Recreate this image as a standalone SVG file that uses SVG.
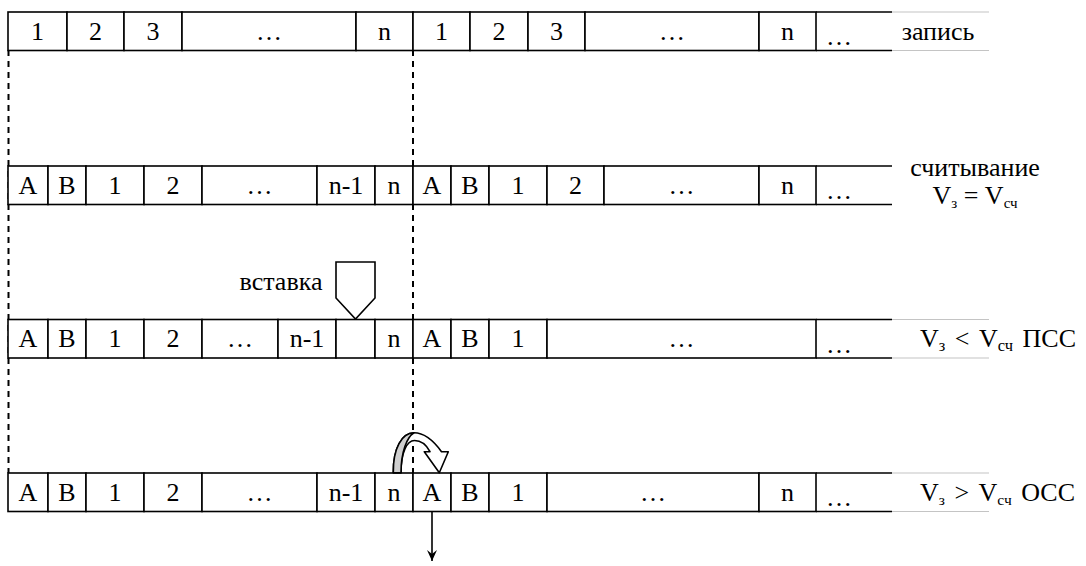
<svg xmlns="http://www.w3.org/2000/svg" width="1086" height="566" viewBox="0 0 1086 566">
<style>
.c{fill:#fff;stroke:#000;stroke-width:1.6}
.o{fill:none;stroke:#000;stroke-width:1.6}
.g{fill:none;stroke:#c4c4c4;stroke-width:1.2}
text{font-family:"Liberation Serif","Times New Roman",serif;font-size:26px;fill:#000}
.t{text-anchor:middle}
.l{font-size:26px}
.s{font-size:15px}
.d{fill:none;stroke:#000;stroke-width:2;stroke-dasharray:6 5}
</style>
<defs>
<marker id="ah" markerWidth="12" markerHeight="10" refX="11" refY="5" orient="auto" markerUnits="userSpaceOnUse" viewBox="0 0 12 10">
<path d="M0,0 L11,5 L0,10 L4,5 Z" fill="#000"/>
</marker>
</defs>

<g id="connectors">
<line class="d" x1="8.5" y1="50" x2="8.5" y2="473"/>
<line class="d" x1="413" y1="50" x2="413" y2="473"/>
<line x1="432" y1="512" x2="432" y2="561" stroke="#000" stroke-width="1.6" marker-end="url(#ah)"/>
</g>

<g id="row1">
<rect class="c" x="8" y="12" width="59" height="38.5"/><text class="t" x="37.5" y="39.5">1</text>
<rect class="c" x="67" y="12" width="57" height="38.5"/><text class="t" x="95.5" y="39.5">2</text>
<rect class="c" x="124" y="12" width="58" height="38.5"/><text class="t" x="153" y="39.5">3</text>
<rect class="c" x="182" y="12" width="174" height="38.5"/><text class="t" x="269" y="39.5">…</text>
<rect class="c" x="356" y="12" width="57" height="38.5"/><text class="t" x="384.5" y="39.5">n</text>
<rect class="c" x="413" y="12" width="57" height="38.5"/><text class="t" x="441.5" y="39.5">1</text>
<rect class="c" x="470" y="12" width="58" height="38.5"/><text class="t" x="499" y="39.5">2</text>
<rect class="c" x="528" y="12" width="57" height="38.5"/><text class="t" x="556.5" y="39.5">3</text>
<rect class="c" x="585" y="12" width="174" height="38.5"/><text class="t" x="672" y="39.5">…</text>
<rect class="c" x="759" y="12" width="57" height="38.5"/><text class="t" x="787.5" y="39.5">n</text>
<path class="o" d="M816,12 H892 M816,50.5 H892"/><text x="826" y="45">…</text>
<path class="g" d="M892,12 H989 M892,50.5 H989"/>
<text class="t l" x="938" y="39.5">запись</text>
</g>

<g id="row2">
<rect class="c" x="8" y="166" width="40" height="38.5"/><text class="t" x="28" y="193.5">A</text>
<rect class="c" x="48" y="166" width="38" height="38.5"/><text class="t" x="67" y="193.5">B</text>
<rect class="c" x="86" y="166" width="58" height="38.5"/><text class="t" x="115" y="193.5">1</text>
<rect class="c" x="144" y="166" width="58" height="38.5"/><text class="t" x="173" y="193.5">2</text>
<rect class="c" x="202" y="166" width="115" height="38.5"/><text class="t" x="259.5" y="193.5">…</text>
<rect class="c" x="317" y="166" width="58" height="38.5"/><text class="t" x="346" y="193.5">n-1</text>
<rect class="c" x="375" y="166" width="38" height="38.5"/><text class="t" x="394" y="193.5">n</text>
<rect class="c" x="413" y="166" width="38" height="38.5"/><text class="t" x="432" y="193.5">A</text>
<rect class="c" x="451" y="166" width="38" height="38.5"/><text class="t" x="470" y="193.5">B</text>
<rect class="c" x="489" y="166" width="58" height="38.5"/><text class="t" x="518" y="193.5">1</text>
<rect class="c" x="547" y="166" width="57" height="38.5"/><text class="t" x="575.5" y="193.5">2</text>
<rect class="c" x="604" y="166" width="155" height="38.5"/><text class="t" x="681.5" y="193.5">…</text>
<rect class="c" x="759" y="166" width="57" height="38.5"/><text class="t" x="787.5" y="193.5">n</text>
<path class="o" d="M816,166 H892 M816,204.5 H892"/><text x="826" y="199">…</text>
<text class="t" x="975" y="176" font-size="24.5">считывание</text>
<text class="t" x="975" y="203.5" font-size="24.5">V<tspan class="s" dy="4">з</tspan><tspan dy="-4"> = V</tspan><tspan class="s" dy="4">сч</tspan></text>
</g>

<g id="insert">
<text class="t l" x="281" y="290">вставка</text>
<path d="M336,262 H375 V298 L355.5,319 L336,298 Z" fill="#fff" stroke="#000" stroke-width="1.6"/>
</g>

<g id="row3">
<rect class="c" x="8" y="319.5" width="40" height="38.5"/><text class="t" x="28" y="347">A</text>
<rect class="c" x="48" y="319.5" width="38" height="38.5"/><text class="t" x="67" y="347">B</text>
<rect class="c" x="86" y="319.5" width="58" height="38.5"/><text class="t" x="115" y="347">1</text>
<rect class="c" x="144" y="319.5" width="58" height="38.5"/><text class="t" x="173" y="347">2</text>
<rect class="c" x="202" y="319.5" width="76" height="38.5"/><text class="t" x="240" y="347">…</text>
<rect class="c" x="278" y="319.5" width="58" height="38.5"/><text class="t" x="307" y="347">n-1</text>
<rect class="c" x="336" y="319.5" width="39" height="38.5"/>
<rect class="c" x="375" y="319.5" width="38" height="38.5"/><text class="t" x="394" y="347">n</text>
<rect class="c" x="413" y="319.5" width="38" height="38.5"/><text class="t" x="432" y="347">A</text>
<rect class="c" x="451" y="319.5" width="38" height="38.5"/><text class="t" x="470" y="347">B</text>
<rect class="c" x="489" y="319.5" width="58" height="38.5"/><text class="t" x="518" y="347">1</text>
<rect class="c" x="547" y="319.5" width="269" height="38.5"/><text class="t" x="681.5" y="347">…</text>
<path class="o" d="M816,319.5 H892 M816,358 H892"/><text x="826" y="352.5">…</text>
<path class="g" d="M892,319.5 H989 M892,358 H989"/>
<text x="1076" y="347" text-anchor="end" font-size="28.5" word-spacing="3">V<tspan font-size="16.5" dy="4">з</tspan><tspan dy="-4"> &lt; V</tspan><tspan font-size="16.5" dy="4">сч</tspan><tspan dy="-4"> ПСС</tspan></text>
</g>

<g id="row4">
<rect class="c" x="8" y="473" width="40" height="38.5"/><text class="t" x="28" y="500.5">A</text>
<rect class="c" x="48" y="473" width="38" height="38.5"/><text class="t" x="67" y="500.5">B</text>
<rect class="c" x="86" y="473" width="58" height="38.5"/><text class="t" x="115" y="500.5">1</text>
<rect class="c" x="144" y="473" width="58" height="38.5"/><text class="t" x="173" y="500.5">2</text>
<rect class="c" x="202" y="473" width="115" height="38.5"/><text class="t" x="259.5" y="500.5">…</text>
<rect class="c" x="317" y="473" width="58" height="38.5"/><text class="t" x="346" y="500.5">n-1</text>
<rect class="c" x="375" y="473" width="38" height="38.5"/><text class="t" x="394" y="500.5">n</text>
<rect class="c" x="413" y="473" width="38" height="38.5"/><text class="t" x="432" y="500.5">A</text>
<rect class="c" x="451" y="473" width="38" height="38.5"/><text class="t" x="470" y="500.5">B</text>
<rect class="c" x="489" y="473" width="58" height="38.5"/><text class="t" x="518" y="500.5">1</text>
<rect class="c" x="547" y="473" width="212" height="38.5"/><text class="t" x="653" y="500.5">…</text>
<rect class="c" x="759" y="473" width="57" height="38.5"/><text class="t" x="787.5" y="500.5">n</text>
<path class="o" d="M816,473 H892 M816,511.5 H892"/><text x="826" y="506">…</text>
<path class="g" d="M892,473 H989 M892,511.5 H989"/>
<text x="1075" y="500.5" text-anchor="end" font-size="27" word-spacing="3">V<tspan font-size="15.5" dy="4">з</tspan><tspan dy="-4"> &gt; V</tspan><tspan font-size="15.5" dy="4">сч</tspan><tspan dy="-4"> ОСС</tspan></text>
</g>

<g id="turn-arrow">
<path d="M393.3,472.7 C393,448 402,433 414,432.8 C424,432.8 433,440 441.5,451.7 L448.3,451.7 L439.3,472.7 L424.3,451.7 L430,451.7 C426,444 420,440.5 414.5,440.5 C407,440.5 401,452 401,472.7 Z" fill="#fff" stroke="#000" stroke-width="1.6" stroke-linejoin="round"/>
<path d="M393.3,472.7 C393,448 402,433 414,432.8 C407,437 401,452 401,472.7 Z" fill="#cfcfcf" stroke="#000" stroke-width="1.6" stroke-linejoin="round"/>
</g>
</svg>
